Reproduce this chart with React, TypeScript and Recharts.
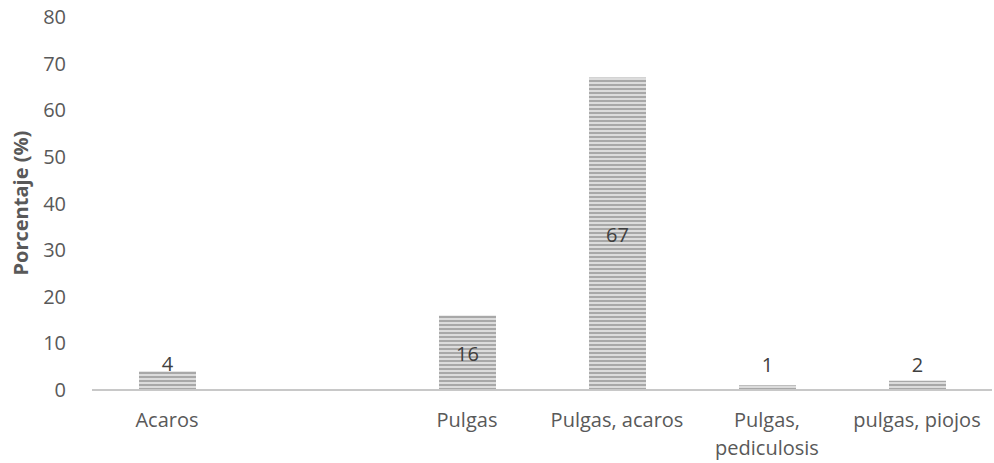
import React from 'react'
import { BarChart, Bar, XAxis, YAxis, LabelList } from 'recharts'

const categories = ['Acaros', '', 'Pulgas', 'Pulgas, acaros', 'Pulgas, pediculosis', 'pulgas, piojos']
const porcentajes: (number | null)[] = [4, null, 16, 67, 1, 2]
const yTicks = [0, 10, 20, 30, 40, 50, 60, 70, 80]

const data = categories.map((name, i) => ({ name, value: porcentajes[i] }))

const FONT = '"Open Sans", sans-serif'
const TEXT = '#595959'
const FS = 20

// long category names go on two lines, split after the comma
const CategoryTick = (props: any) => {
  const { x, y, payload } = props
  const text: string = payload.value || ''
  const lines = text.length > 16 ? [text.slice(0, text.indexOf(',') + 1), text.slice(text.indexOf(',') + 2)] : [text]
  return (
    <text x={x} y={y} textAnchor="middle" fill={TEXT} fontSize={FS} fontFamily={FONT}>
      {lines.map((l, i) => (
        <tspan key={i} x={x} dy={i === 0 ? 29 : 28}>
          {l}
        </tspan>
      ))}
    </text>
  )
}

const ValueLabel = (props: any) => {
  const { x, y, width, height, value } = props
  if (value == null) return null
  const base = y + height
  let ty: number
  if (height > 40) ty = y + height / 2 + 8
  else ty = Math.min(y, base - 18)
  return (
    <text x={x + width / 2} y={ty} textAnchor="middle" fill="#404040" fontSize={FS} fontFamily={FONT}>
      {value}
    </text>
  )
}

export default function App() {
  return (
    <div style={{ position: 'absolute', left: 0, top: 0, background: '#fff' }}>
      <BarChart width={994} height={463} data={data} margin={{ top: 17, right: 2, bottom: 0, left: 0 }}>
        <defs>
          <pattern id="stripes" width="8" height="4" patternUnits="userSpaceOnUse">
            <rect width="8" height="4" fill="#dcdcdc" />
            <rect width="8" height="2" fill="#a8a8a8" />
          </pattern>
        </defs>
        <XAxis
          dataKey="name"
          height={73}
          axisLine={{ stroke: '#c8c8c8', strokeWidth: 2 }}
          tickLine={false}
          tick={<CategoryTick />}
          interval={0}
        />
        <YAxis
          width={92}
          domain={[0, 80]}
          ticks={yTicks}
          axisLine={false}
          tickLine={false}
          tick={{ fill: TEXT, fontSize: FS, fontFamily: FONT }}
          tickMargin={20}
          label={{
            value: 'Porcentaje (%)',
            angle: -90,
            position: 'insideLeft',
            dx: 16,
            dy: 72,
            style: { fill: TEXT, fontSize: FS, fontWeight: 'bold', fontFamily: FONT },
          }}
        />
        <Bar dataKey="value" fill="url(#stripes)" barSize={57} isAnimationActive={false}>
          <LabelList dataKey="value" content={<ValueLabel />} />
        </Bar>
      </BarChart>
    </div>
  )
}
